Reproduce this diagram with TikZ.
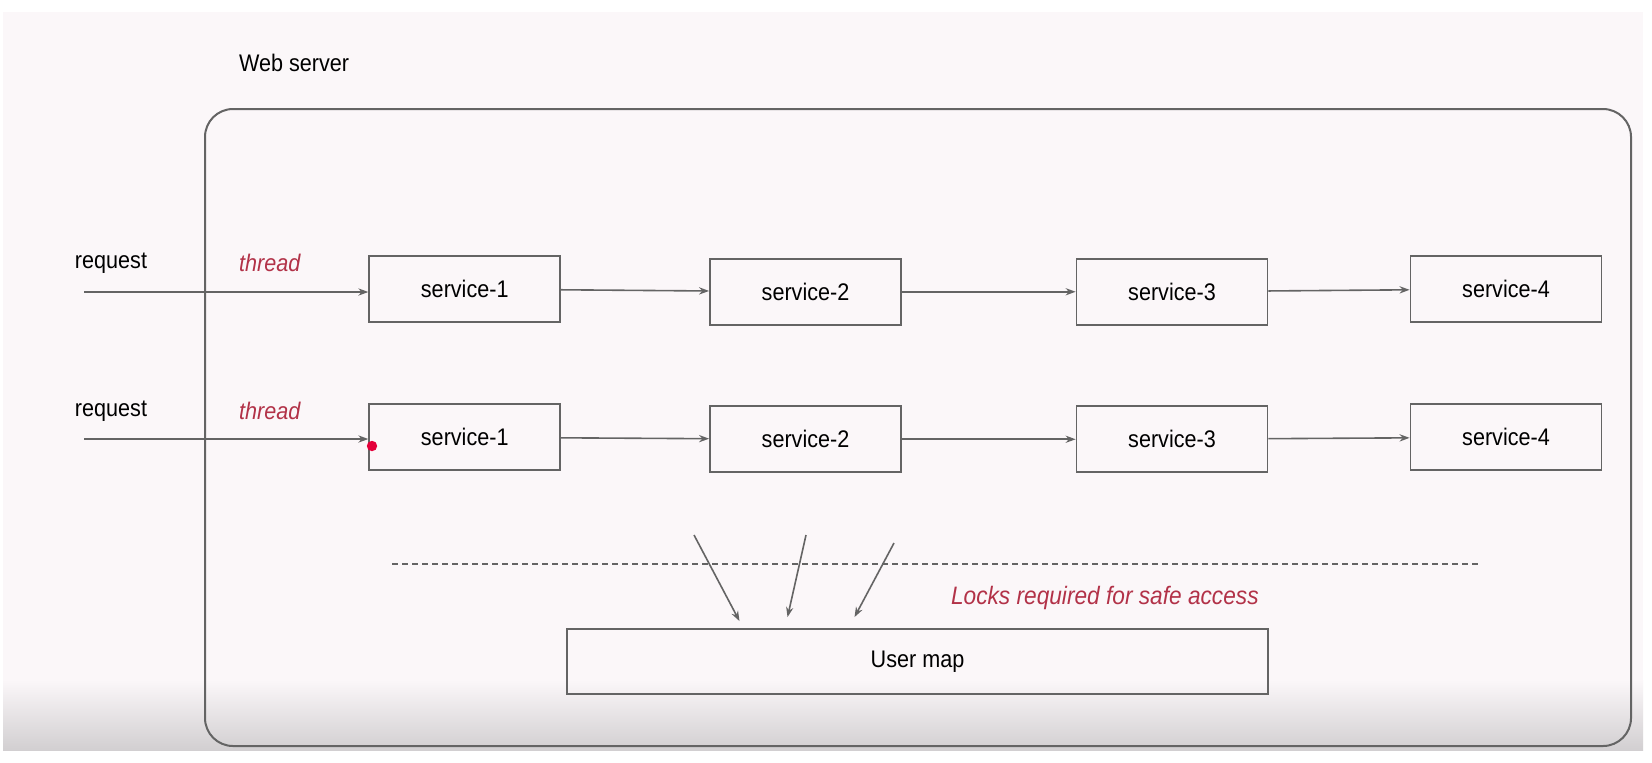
\documentclass[tikz,border=0pt]{standalone}
\usepackage{fontspec}
\setmainfont{Liberation Sans}[FakeStretch=0.9]
\usepackage{xcolor}
\usetikzlibrary{arrows.meta,calc}
\definecolor{bgpink}{RGB}{251,247,249}
\definecolor{bgshade}{RGB}{210,207,209}
\definecolor{linegray}{RGB}{100,100,100}
\definecolor{threadred}{RGB}{178,50,72}
\definecolor{dotred}{RGB}{228,0,58}

\begin{document}
\begin{tikzpicture}[x=0.5pt,y=-0.5pt,
	font=\fontsize{12}{14}\selectfont,
	svc/.style={draw=linegray,line width=0.9pt,minimum width=95.5pt,minimum height=33pt,inner sep=0pt},
	note/.style={text=threadred,font=\fontsize{12}{14}\selectfont\itshape},
	flow/.style={-{Stealth[length=5pt,width=3.6pt]},draw=linegray,line width=0.8pt}]
		\useasboundingbox (0,0) rectangle (1652,762);
		\fill[white] (0,0) rectangle (1652,762);
		\fill[bgpink] (3,12) rectangle (1643,750);
		\shade[top color=bgpink,bottom color=bgshade] (3,680) rectangle (1643,750);
		%
		\draw[linegray,line width=1pt,rounded corners=14pt] (205,109) rectangle (1631,746);
		\node[anchor=west] (web) at (232,63) {Web server};
		%
		\node (req1) at (111,263) {request};
		\node (req2) at (111,411) {request};
		\node[note,anchor=west] (thr1) at (232,263) {thread};
		\node[note,anchor=west] (thr2) at (232,411) {thread};
		\coordinate (in1) at (84,292);
		\coordinate (in2) at (84,439);
		%
		\node[svc] (A1) at (464.75,289) {service-1};
		\node[svc] (B1) at (805.5,291.75) {service-2};
		\node[svc] (C1) at (1172,291.75) {service-3};
		\node[svc] (D1) at (1506,289) {service-4};
		\node[svc] (A2) at (464.75,437.25) {service-1};
		\node[svc] (B2) at (805.5,439.25) {service-2};
		\node[svc] (C2) at (1172,439.25) {service-3};
		\node[svc] (D2) at (1506,437.25) {service-4};
		%
		\draw[flow] (in1) -- (in1 -| A1.west);
		\draw[flow] (in2) -- (in2 -| A2.west);
		\path[flow]
		(A1) edge (B1)
		(B1) edge (C1)
		(C1) edge (D1)
		(A2) edge (B2)
		(B2) edge (C2)
		(C2) edge (D2);
		\fill[dotred] (372,446) circle (2.6pt);
		%
		\node[svc,minimum width=350.5pt,minimum height=32.5pt] (umap) at (917.5,661.5) {User map};
		\coordinate (dl) at (392,564);
		\coordinate (dr) at (1478,564);
		\draw[linegray,line width=0.8pt,dash pattern=on 3pt off 2pt] (dl) -- (dr);
		\node[note,anchor=west,font=\fontsize{12.6}{14}\selectfont\itshape] (locks) at (944,598) {Locks required for safe access};
		%
		\coordinate (t1) at (694,535);
		\coordinate (t2) at (806,535);
		\coordinate (t3) at (894,543);
		\draw[flow] (t1) -- ($(umap.north)+(-178,-7)$);
		\draw[flow] (t2) -- ($(umap.north)+(-130,-11)$);
		\draw[flow] (t3) -- ($(umap.north)+(-63,-11)$);
		\end{tikzpicture}
\end{document}
